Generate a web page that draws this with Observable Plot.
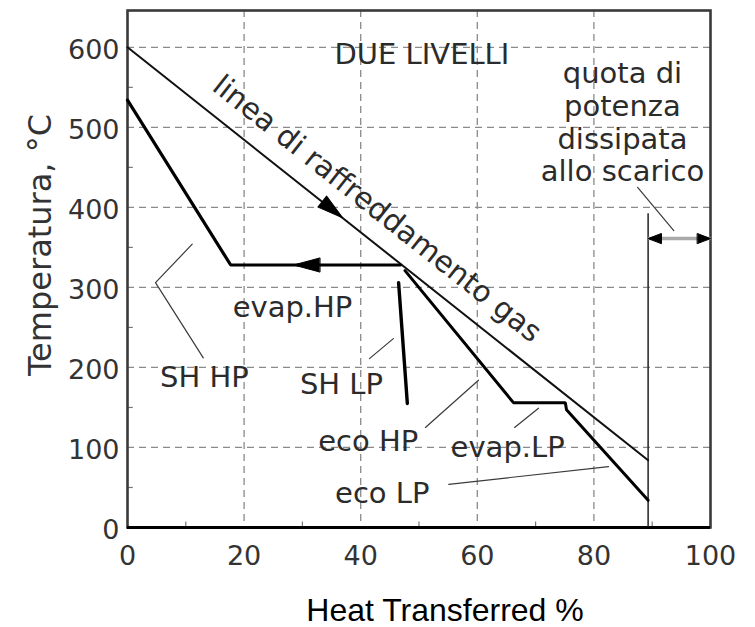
<!DOCTYPE html>
<html><head><meta charset="utf-8">
<script src="https://cdn.jsdelivr.net/npm/d3@7"></script>
<script src="https://cdn.jsdelivr.net/npm/@observablehq/plot@0.6"></script>
<style>
body{margin:0;background:#fff}
#chart svg{display:block}
#xtitle{font-family:"Liberation Sans",Arial,sans-serif;font-size:32px;line-height:33px;height:33px;margin:0;padding-left:135px;text-align:center;color:#000;white-space:nowrap;width:620px}
</style>
</head><body><div id="chart"></div><div id="xtitle"></div>
<script>
// ---- data ----
const xTicks = [0, 20, 40, 60, 80, 100];
const yTicks = [0, 100, 200, 300, 400, 500, 600];
const xGrid = [20, 40, 60, 80];
const yGrid = [100, 200, 300, 400, 500, 600];
const xMinor = [10, 30, 50, 70, 90];
const yMinor = [50, 150, 250, 350, 450, 550];

// gas cooling line
const gasX = [0, 89.3];
const gasT = [600, 84];
// HP steam: SH HP + evap HP
const hpX = [0, 17.7, 46.8];
const hpT = [534, 328, 328];
// eco HP, evap LP, eco LP
const lpX = [47.6, 66.2, 75.1, 75.3, 89.3];
const lpT = [321, 156, 156, 147, 34];
// SH LP
const shLpX = [46.5, 48];
const shLpT = [306, 155];
// exhaust boundary
const exhaustX = 89.3;
const exhaustTopT = 392;
const dimT = 361;

// leader lines (polylines)
const leaders = [
  {id: "SH HP", pts: [[11.1, 354], [4.8, 306], [13.0, 212]]},
  {id: "SH LP", pts: [[41.5, 211], [45.6, 236]]},
  {id: "eco HP", pts: [[51.1, 125], [60.2, 184]]},
  {id: "evap LP", pts: [[66.4, 125], [70.5, 149]]},
  {id: "eco LP", pts: [[55.1, 54], [82.5, 76]]},
  {id: "quota", pts: [[87.5, 425], [93.7, 371]]}
];

// labels
const labels = [
  {text: "DUE LIVELLI", x: 50.5, y: 592},
  {text: "quota di\npotenza\ndissipata\nallo scarico", x: 84.9, y: 507},
  {text: "evap.HP", x: 28.3, y: 276},
  {text: "SH HP", x: 13.2, y: 189},
  {text: "SH LP", x: 36.7, y: 180},
  {text: "eco HP", x: 41.3, y: 109},
  {text: "evap.LP", x: 65.2, y: 101},
  {text: "eco LP", x: 43.7, y: 44}
];
const gasLabel = {text: "linea di raffreddamento gas", x: 42.8, y: 398, angle: 38.4};

// arrowheads on flow lines (tip positions)
const arrows = [
  {x: 36.9, y: 387, dir: 128.4},
  {x: 28.5, y: 328, dir: 270}
];
const dimArrows = [
  {x: exhaustX, y: dimT, dir: 270},
  {x: 100, y: dimT, dir: 90}
];

const xTitle = "Heat Transferred %";
const yTitle = "Temperatura, °C";

// ---- build ----
const pts = (xs, ts) => xs.map((x, i) => ({x, y: ts[i]}));
const leaderRows = leaders.flatMap(l => l.pts.map(([x, y]) => ({id: l.id, x, y})));
const head = (w) => ({draw(ctx, l) { ctx.moveTo(-w, 0); ctx.lineTo(0, -l); ctx.lineTo(w, 0); ctx.closePath(); }});
const font = "DejaVu Sans";

const chart = Plot.plot({
  width: 755,
  height: 594,
  marginLeft: 127,
  marginRight: 45,
  marginTop: 10,
  marginBottom: 67,
  style: {fontFamily: font, background: "#fff"},
  x: {domain: [0, 100]},
  y: {domain: [0, 646]},
  marks: [
    Plot.gridY(yGrid, {stroke: "#8a8a8a", strokeOpacity: 1, strokeWidth: 1.3, strokeDasharray: "7,5"}),
    Plot.gridX(xGrid, {stroke: "#8a8a8a", strokeOpacity: 1, strokeWidth: 1.3, strokeDasharray: "7,5"}),
    Plot.ruleY(yMinor, {x1: () => 0, x2: () => 1, stroke: "#777", strokeWidth: 1.2}),
    Plot.ruleX(xMinor, {y1: () => 0, y2: () => 7, stroke: "#777", strokeWidth: 1.2}),
    Plot.frame({stroke: "#3a3a3a", strokeWidth: 2.6}),
    Plot.ruleY([0], {stroke: "#000", strokeWidth: 3}),
    Plot.axisX({ticks: xTicks, tickSize: 0, tickPadding: 18, fontSize: 27, fill: "#333", label: null}),
    Plot.axisY({ticks: yTicks, tickSize: 0, tickPadding: 8, fontSize: 27, fill: "#333", dy: 3, label: null}),
    // exhaust boundary line + dimension arrow
    Plot.ruleX([exhaustX], {y1: () => 0, y2: () => exhaustTopT, stroke: "#222", strokeWidth: 1.5}),
    Plot.link([0], {x1: () => exhaustX, x2: () => 100, y1: () => dimT, y2: () => dimT, stroke: "#aaa", strokeWidth: 3.5}),
    Plot.vector(dimArrows, {x: "x", y: "y", rotate: "dir", length: 13, anchor: "end", shape: head(5), fill: "#000", stroke: "#000", strokeWidth: 1}),
    // leaders
    Plot.line(leaderRows, {x: "x", y: "y", z: "id", stroke: "#3a3a3a", strokeWidth: 1.2}),
    // gas line
    Plot.line(pts(gasX, gasT), {x: "x", y: "y", stroke: "#111", strokeWidth: 2}),
    // steam lines
    Plot.line(pts(hpX, hpT), {x: "x", y: "y", stroke: "#000", strokeWidth: 3.2, strokeLinejoin: "miter"}),
    Plot.line(pts(lpX, lpT), {x: "x", y: "y", stroke: "#000", strokeWidth: 3, strokeLinejoin: "miter"}),
    Plot.line(pts(shLpX, shLpT), {x: "x", y: "y", stroke: "#000", strokeWidth: 3.4}),
    Plot.vector(arrows, {x: "x", y: "y", rotate: "dir", length: 26, anchor: "end", shape: head(7), fill: "#000", stroke: "#000", strokeWidth: 1}),
    // labels
    Plot.text(labels, {x: "x", y: "y", text: "text", fontSize: 29, fill: "#2b2b2b", lineHeight: 1.13, fontFamily: font}),
    Plot.text([gasLabel], {x: "x", y: "y", text: "text", rotate: "angle", fontSize: 29.5, fill: "#2b2b2b", fontFamily: font}),
    // y axis title
    Plot.text([yTitle], {x: () => -14.9, y: () => 353, text: d => d, rotate: -90, fontSize: 32, fill: "#333", fontFamily: font})
  ]
});
document.getElementById("chart").appendChild(chart);
document.getElementById("xtitle").textContent = xTitle;
</script>
</body></html>
